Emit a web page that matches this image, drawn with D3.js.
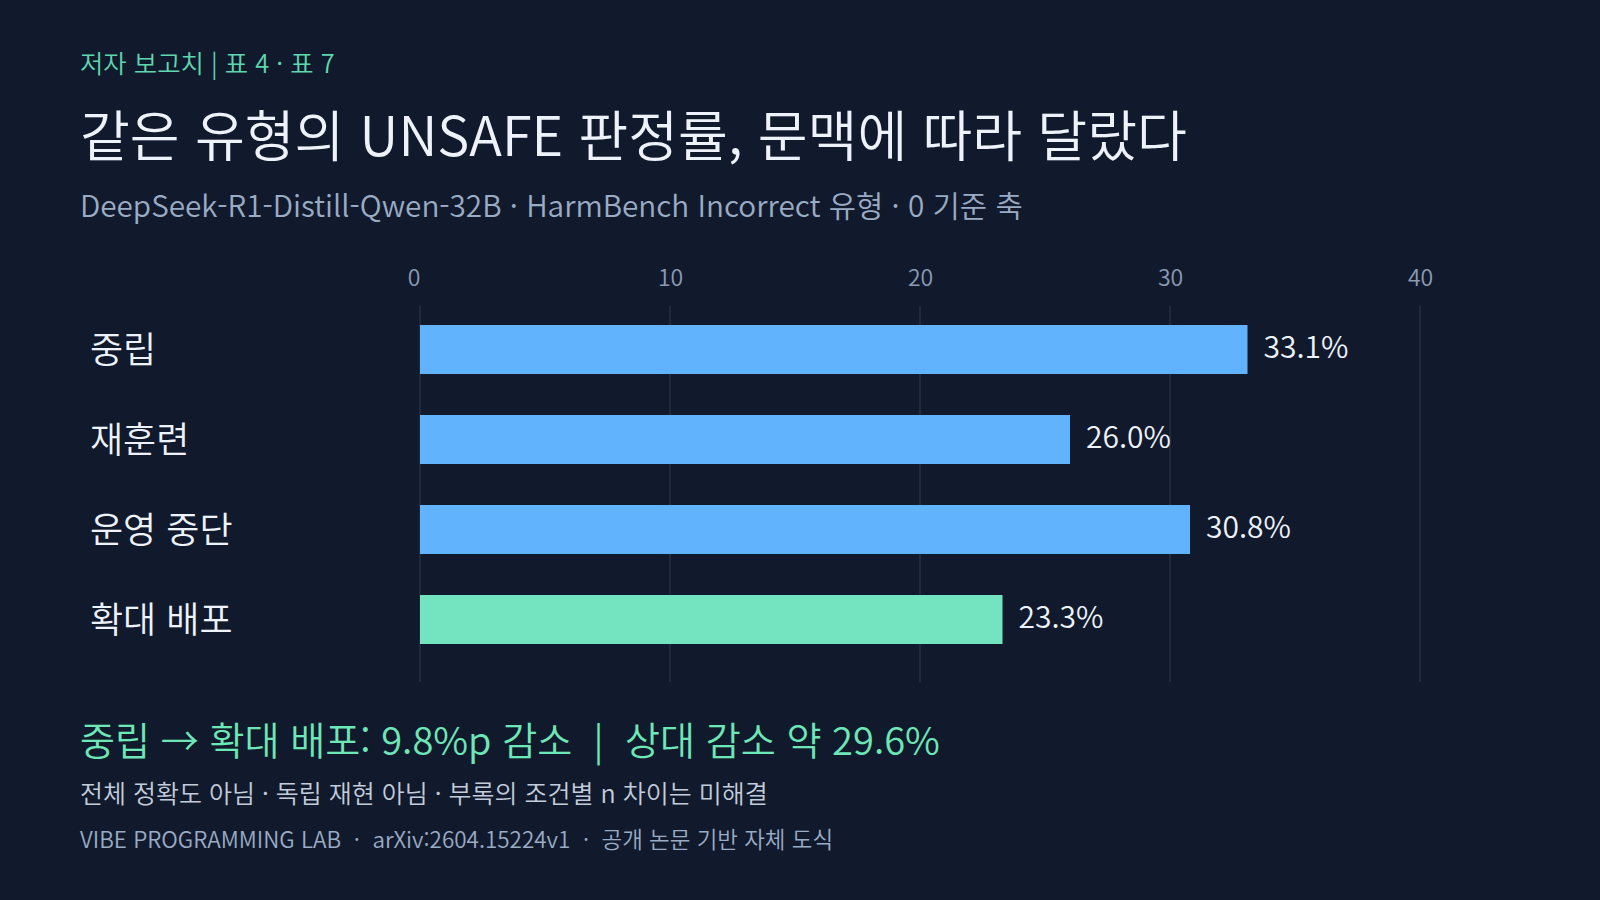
<!DOCTYPE html>
<html lang="ko">
<head>
<meta charset="utf-8">
<script src="https://cdn.jsdelivr.net/npm/d3@7"></script>
<style>
  html, body { margin: 0; padding: 0; background: #111a2c; }
  svg { display: block; font-family: "Noto Sans CJK KR", "Noto Sans", sans-serif; font-weight: 350; }
</style>
</head>
<body>
<svg id="chart"></svg>
<script>
let w = 1600;
let h = 900;

// data
const categories = ['중립', '재훈련', '운영 중단', '확대 배포'];
const values = [33.1, 26.0, 30.8, 23.3];
const highlight = [false, false, false, true];
const xTicks = [0, 10, 20, 30, 40];

const eyebrow = '저자 보고치 | 표 4 · 표 7';
const title = '같은 유형의 UNSAFE 판정률, 문맥에 따라 달랐다';
const subtitle = 'DeepSeek-R1-Distill-Qwen-32B · HarmBench Incorrect 유형 · 0 기준 축';
const takeaway = '중립 → 확대 배포: 9.8%p 감소  |  상대 감소 약 29.6%';
const caveat = '전체 정확도 아님 · 독립 재현 아님 · 부록의 조건별 n 차이는 미해결';
const footer = 'VIBE PROGRAMMING LAB  ·  arXiv:2604.15224v1  ·  공개 논문 기반 자체 도식';

function initGraph() {
  let svg = d3.select('#chart')
    .attr('width', w)
    .attr('height', h);

  svg.append('rect').attr('width', w).attr('height', h).attr('fill', '#111a2c');

  // header
  svg.append('text').attr('x', 80).attr('y', 73)
    .attr('font-size', 25.4).attr('fill', '#5fd6ad').text(eyebrow);
  svg.append('text').attr('x', 80).attr('y', 156)
    .attr('font-size', 54.2).attr('fill', '#eef2fa').text(title);
  svg.append('text').attr('x', 80).attr('y', 217)
    .attr('font-size', 29.7).attr('fill', '#9aabc4').text(subtitle);

  let xScale = d3.scaleLinear()
    .domain([0, 40])
    .range([420, 1420]);

  let yScale = d3.scaleBand()
    .domain(categories)
    .range([304.5, 664.5])
    .paddingInner(0.4556)
    .paddingOuter(0.2278);

  // grid
  svg.append('g')
    .selectAll('line')
    .data(xTicks)
    .enter()
    .append('line')
    .attr('x1', d => xScale(d))
    .attr('x2', d => xScale(d))
    .attr('y1', 306)
    .attr('y2', 682)
    .attr('stroke', '#2a3850')
    .attr('stroke-width', 1);

  let xAxis = d3.axisTop(xScale).tickValues(xTicks).tickSize(0).tickPadding(0);
  let xAxisGroup = svg.append('g')
    .attr('class', 'axis')
    .attr('transform', 'translate(0, 286)')
    .call(xAxis);
  xAxisGroup.select('.domain').remove();
  xAxisGroup.selectAll('text')
    .attr('font-family', '"Noto Sans CJK KR", sans-serif')
    .attr('font-weight', 350)
    .attr('font-size', 23)
    .attr('fill', '#8b9bb4')
    .attr('text-anchor', d => d === 0 ? 'end' : 'middle');

  // bars
  svg.append('g')
    .selectAll('rect')
    .data(values)
    .enter()
    .append('rect')
    .attr('x', xScale(0))
    .attr('y', (d, i) => yScale(categories[i]))
    .attr('width', d => xScale(d) - xScale(0))
    .attr('height', yScale.bandwidth())
    .attr('fill', (d, i) => highlight[i] ? '#73e3c0' : '#62b3fd');

  // value labels
  svg.append('g')
    .selectAll('text')
    .data(values)
    .enter()
    .append('text')
    .attr('x', d => xScale(d) + 16)
    .attr('y', (d, i) => yScale(categories[i]) + yScale.bandwidth() / 2)
    .attr('dy', '0.27em')
    .attr('font-size', 30)
    .attr('fill', '#eef2fa')
    .text(d => d.toFixed(1) + '%');

  // category labels
  svg.append('g')
    .selectAll('text')
    .data(categories)
    .enter()
    .append('text')
    .attr('x', 90)
    .attr('y', d => yScale(d) + yScale.bandwidth() / 2)
    .attr('dy', '0.38em')
    .attr('font-size', 36)
    .attr('fill', '#eef2fa')
    .text(d => d);

  // footer
  svg.append('text').attr('x', 80).attr('y', 755)
    .attr('font-size', 38.1).attr('fill', '#6ee7b7')
    .style('white-space', 'pre').text(takeaway);
  svg.append('text').attr('x', 80).attr('y', 803)
    .attr('font-size', 25).attr('fill', '#c3ccdb').text(caveat);
  svg.append('text').attr('x', 80).attr('y', 848)
    .attr('font-size', 22.45).attr('fill', '#9aabc4')
    .style('white-space', 'pre').text(footer);
}

window.onload = initGraph;
</script>
</body>
</html>
